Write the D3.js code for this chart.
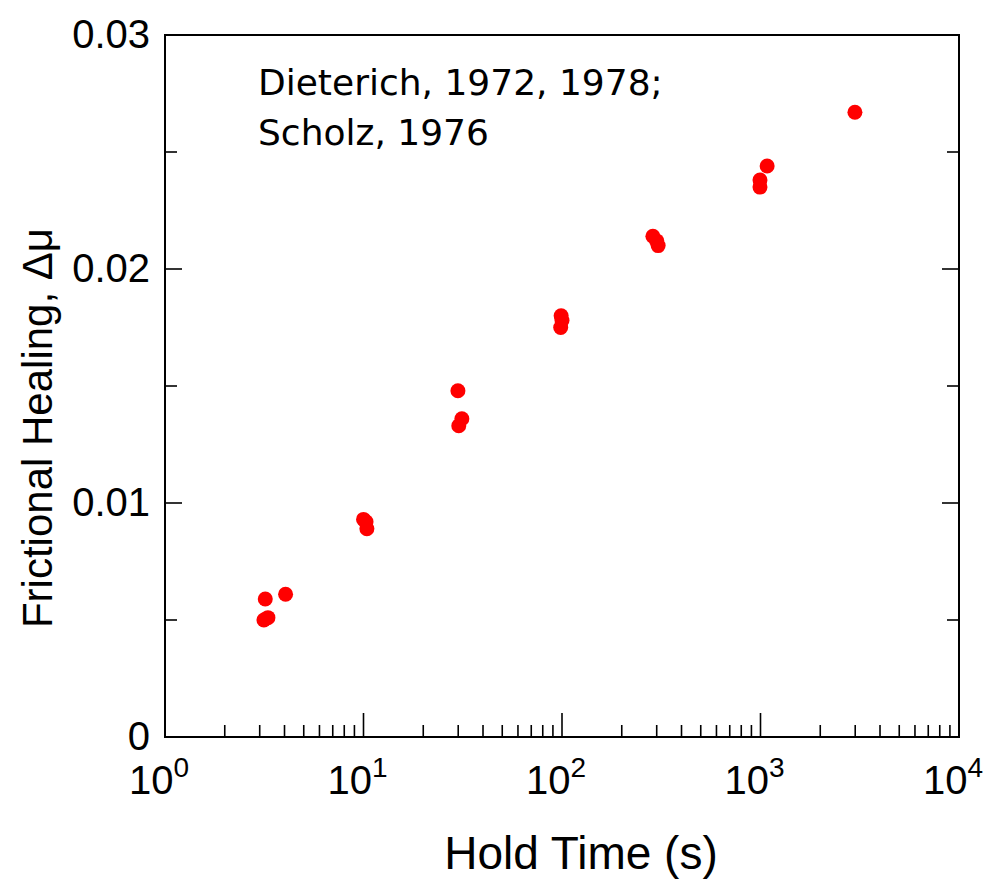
<!DOCTYPE html>
<html><head><meta charset="utf-8">
<script src="https://cdn.jsdelivr.net/npm/d3@7"></script>
<style>body{margin:0;background:#fff}svg{display:block}</style>
</head><body>
<script>
const holdTime = [3.15, 3.3, 3.2, 4.05, 10, 10.3, 10.4, 29.9, 31.3, 30.2, 99, 100, 98.5, 287, 305, 300, 1080, 994, 994, 2990];
const healing = [0.0050, 0.0051, 0.0059, 0.0061, 0.0093, 0.0092, 0.0089, 0.0148, 0.0136, 0.0133, 0.0180, 0.0178, 0.0175, 0.0214, 0.0210, 0.0212, 0.0244, 0.0238, 0.0235, 0.0267];
const xMajorTicks = [1, 10, 100, 1000, 10000];
const xMajorExp = ["0", "1", "2", "3", "4"];
const yTicks = [0, 0.01, 0.02, 0.03];
const yTickLabels = ["0", "0.01", "0.02", "0.03"];
const yMinorTicks = [0.005, 0.015, 0.025];
const annotation = ["Dieterich, 1972, 1978;", "Scholz, 1976"];

const W = 991, H = 881;
const L = 165, R = 959, T = 35, B = 737;
const svg = d3.select("body").append("svg").attr("width", W).attr("height", H);
const x = d3.scaleLog().domain([1, 10000]).range([L, R]);
const y = d3.scaleLinear().domain([0, 0.03]).range([B, T]);

const font = "'Liberation Sans', Arial, Helvetica, sans-serif";

svg.append("rect").attr("x", L).attr("y", T).attr("width", R - L).attr("height", B - T)
  .attr("fill", "none").attr("stroke", "#000").attr("stroke-width", 2);

const xMinor = [];
for (let d = 1; d < 10000; d *= 10) for (let k = 2; k <= 9; k++) xMinor.push(d * k);
const g = svg.append("g").attr("stroke", "#000").attr("stroke-width", 1.6);
xMinor.forEach(v => g.append("line").attr("x1", x(v)).attr("x2", x(v)).attr("y1", B).attr("y2", B - 12));
xMajorTicks.slice(1, -1).forEach(v => g.append("line").attr("x1", x(v)).attr("x2", x(v)).attr("y1", B).attr("y2", B - 24));

yTicks.slice(1, -1).forEach(v => {
  g.append("line").attr("x1", L).attr("x2", L + 17).attr("y1", y(v)).attr("y2", y(v));
  g.append("line").attr("x1", R).attr("x2", R - 17).attr("y1", y(v)).attr("y2", y(v));
});
yMinorTicks.forEach(v => {
  g.append("line").attr("x1", L).attr("x2", L + 12).attr("y1", y(v)).attr("y2", y(v));
  g.append("line").attr("x1", R).attr("x2", R - 12).attr("y1", y(v)).attr("y2", y(v));
});

xMajorTicks.forEach((v, i) => {
  const t = svg.append("text").attr("x", x(v) - 6).attr("y", 794).attr("text-anchor", "middle")
    .attr("font-family", font).attr("font-size", 40).attr("fill", "#000");
  t.append("tspan").text("10");
  t.append("tspan").attr("dy", -17).attr("font-size", 28).text(xMajorExp[i]);
});

yTicks.forEach((v, i) => {
  svg.append("text").attr("x", 150).attr("y", y(v) + 13).attr("text-anchor", "end")
    .attr("font-family", font).attr("font-size", 40).attr("fill", "#000").text(yTickLabels[i]);
});

svg.append("text").attr("x", 581).attr("y", 869).attr("text-anchor", "middle")
  .attr("font-family", font).attr("font-size", 46).attr("fill", "#000").text("Hold Time (s)");
svg.append("text").attr("transform", "translate(52,428) rotate(-90)").attr("text-anchor", "middle")
  .attr("font-family", font).attr("font-size", 42).attr("fill", "#000")
  .text("Frictional Healing,  Δμ");

annotation.forEach((s, i) => {
  svg.append("text").attr("x", 258).attr("y", 95 + i * 50)
    .attr("font-family", "'Comic Sans MS', 'DejaVu Sans', sans-serif").attr("font-size", 36)
    .attr("fill", "#000").text(s);
});

svg.append("g").selectAll("circle").data(holdTime).join("circle")
  .attr("cx", d => x(d)).attr("cy", (d, i) => y(healing[i])).attr("r", 7.5).attr("fill", "#ff0000");
</script>
</body></html>
